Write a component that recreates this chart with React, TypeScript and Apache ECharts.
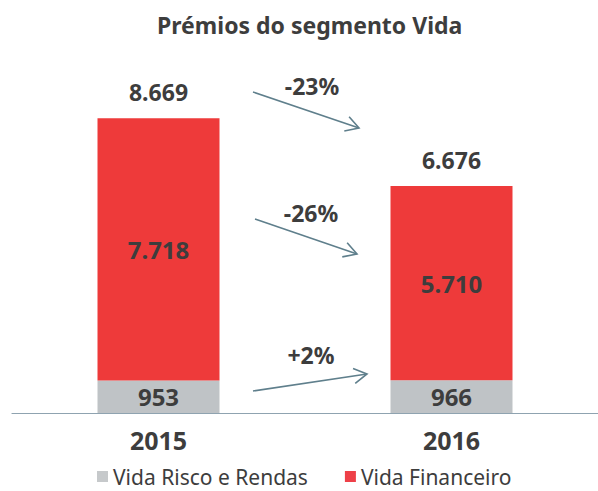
import React, { useEffect, useRef } from "react";
import * as echarts from "echarts";

const categories = ["2015", "2016"];
const seriesNames = ["Vida Risco e Rendas", "Vida Financeiro"];
const risco = [953, 966];
const financeiro = [7718, 5710];
const totals = [8669, 6676];
const changes = ["-23%", "-26%", "+2%"];

const fmt = (n: number) => String(n).replace(/\B(?=(\d{3})+(?!\d))/g, ".");

const TEXT = "#3d3d3d";
const ARROW = "#5f7f8c";
const FONT = "'Noto Sans', 'Open Sans', sans-serif";

function arrow(x1: number, y1: number, x2: number, y2: number) {
  const a = Math.atan2(y2 - y1, x2 - x1);
  const L = 15;
  const s = Math.PI / 6;
  const p1 = [x2 - L * Math.cos(a - s), y2 - L * Math.sin(a - s)];
  const p2 = [x2 - L * Math.cos(a + s), y2 - L * Math.sin(a + s)];
  return [
    { type: "line", shape: { x1, y1, x2, y2 }, style: { stroke: ARROW, lineWidth: 1.6 } },
    { type: "polyline", shape: { points: [p1, [x2, y2], p2] }, style: { stroke: ARROW, lineWidth: 1.6, fill: null } },
  ];
}

export default function App() {
  const ref = useRef<HTMLDivElement>(null);
  useEffect(() => {
    document.body.style.margin = "0";
    const chart = echarts.init(ref.current!, null, { renderer: "svg" });
    const labelStyle = { fontFamily: FONT, fontWeight: "bold" as const, fontSize: 23, color: TEXT };
    const pct = (t: string, x: number, y: number) => ({
      type: "text",
      x,
      y,
      style: { text: t, fontFamily: FONT, fontWeight: "bold", fontSize: 23, fill: TEXT, align: "center", verticalAlign: "middle" },
    });
    chart.setOption({
      animation: false,
      textStyle: { fontFamily: FONT },
      title: {
        text: "Prémios do segmento Vida",
        left: 152,
        top: 8,
        textStyle: { fontFamily: FONT, fontWeight: "bold", fontSize: 23, color: TEXT },
      },
      legend: {
        data: [
          { name: seriesNames[0], itemStyle: { color: "#c6c9cb" } },
          { name: seriesNames[1], itemStyle: { color: "#ee4048" } },
        ],
        left: 92,
        top: 461,
        icon: "rect",
        itemWidth: 11,
        itemHeight: 11,
        itemGap: 37,
        textStyle: { fontFamily: FONT, fontSize: 21, color: TEXT },
      },
      grid: { left: 12, right: -8, top: 73, bottom: 78 },
      xAxis: {
        type: "category",
        data: categories,
        axisLine: { lineStyle: { color: "#8fa3b0", width: 1.2 } },
        axisTick: { show: false },
        axisLabel: { margin: 14, ...labelStyle, fontSize: 25 },
      },
      yAxis: { type: "value", min: 0, max: 10000, show: false },
      series: [
        {
          name: seriesNames[0],
          type: "bar",
          stack: "a",
          barWidth: 122,
          data: risco,
          itemStyle: { color: "#bfc3c6" },
          label: { show: true, position: "inside", ...labelStyle, fontSize: 24, formatter: (p: any) => fmt(p.value) },
        },
        {
          name: seriesNames[1],
          type: "bar",
          stack: "a",
          barWidth: 122,
          data: financeiro,
          itemStyle: { color: "#ee3a3a" },
          label: { show: true, position: "inside", ...labelStyle, fontSize: 24, formatter: (p: any) => fmt(p.value) },
        },
        {
          name: "Total",
          type: "bar",
          barWidth: 122,
          barGap: "-100%",
          data: totals,
          silent: true,
          z: 1,
          itemStyle: { color: "transparent" },
          label: { show: true, position: "top", distance: 15, ...labelStyle, formatter: (p: any) => fmt(p.value) },
        },
      ],
      graphic: [
        ...arrow(253, 92, 359, 128),
        ...arrow(255, 219, 357, 254),
        ...arrow(253, 391, 367, 374),
        pct(changes[0], 312, 86),
        pct(changes[1], 311, 213),
        pct(changes[2], 311, 355),
      ],
    });
    return () => chart.dispose();
  }, []);
  return <div ref={ref} style={{ width: 598, height: 491 }} />;
}
